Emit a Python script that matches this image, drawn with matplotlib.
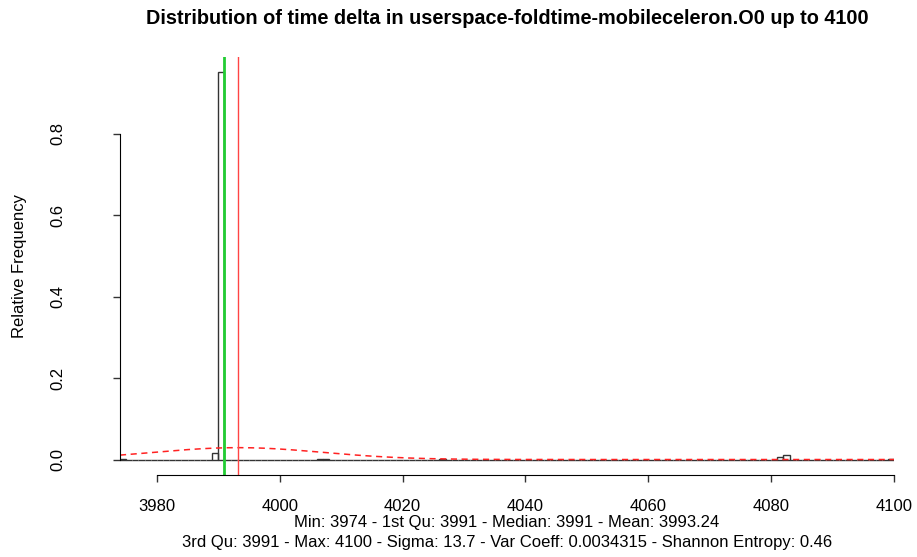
import numpy as np
import matplotlib
matplotlib.use("Agg")
import matplotlib.pyplot as plt

plt.rcParams['font.family'] = ['Liberation Sans', 'DejaVu Sans']

# histogram (unit bins, left edge) -> relative frequency
x_min, x_max = 3974, 4100
nonzero_bins = [3974, 3989, 3990, 4006, 4007, 4026, 4081, 4082, 4099]
nonzero_freq = [0.0006, 0.016, 0.95, 0.002, 0.002, 0.001, 0.005, 0.012, 0.001]

median_val = 3991
mean_val = 3993.24
sigma_val = 13.7

title = "Distribution of time delta in userspace-foldtime-mobileceleron.O0 up to 4100"
footer1 = "Min: 3974 - 1st Qu: 3991 - Median: 3991 - Mean: 3993.24"
footer2 = "3rd Qu: 3991 - Max: 4100 - Sigma: 13.7 - Var Coeff: 0.0034315 - Shannon Entropy: 0.46"
xticks = [3980, 4000, 4020, 4040, 4060, 4080, 4100]
yticks = [0.0, 0.2, 0.4, 0.6, 0.8]

bins = np.arange(x_min, x_max)
freq = np.zeros(len(bins))
for b, f in zip(nonzero_bins, nonzero_freq):
    freq[b - x_min] = f

fig = plt.figure(figsize=(9.17, 5.57), dpi=100)
ax = fig.add_axes([120 / 917, 82 / 557, 774 / 917, 418 / 557])
ymax = max(freq)
ax.set_xlim(x_min, x_max)
ax.set_ylim(-0.04 * ymax, 1.04 * ymax)

ax.bar(bins, freq, width=1, align='edge', fill=False, edgecolor='#333333', linewidth=1)

xs = np.linspace(x_min, x_max, 400)
dens = np.exp(-0.5 * ((xs - mean_val) / sigma_val) ** 2) / (sigma_val * np.sqrt(2 * np.pi))
ax.plot(xs, dens, color='#ff2222', linestyle=(0, (4, 3)), linewidth=1.1)

ax.axvline(median_val, color='#22cc33', linewidth=2)
ax.axvline(mean_val, color='#ff4444', linewidth=1)

for s in ax.spines.values():
    s.set_visible(False)
ax.spines['bottom'].set_visible(True)
ax.spines['bottom'].set_bounds(xticks[0], xticks[-1])
ax.spines['left'].set_visible(True)
ax.spines['left'].set_bounds(yticks[0], yticks[-1])
ax.set_xticks(xticks)
ax.set_yticks(yticks)
ax.set_yticklabels([str(t) for t in yticks], rotation=90, va='center')
ax.tick_params(length=5, width=1, labelsize=12, color='#333333')
ax.tick_params(axis='x', pad=12)
ax.tick_params(axis='y', pad=34)
ax.set_ylabel("Relative Frequency", fontsize=12, labelpad=17)

fig.text(507 / 917, 1 - 18 / 557, title, ha='center', va='center', fontsize=14.3, fontweight='bold')
fig.text(507 / 917, 1 - 522 / 557, footer1, ha='center', va='center', fontsize=12)
fig.text(507 / 917, 1 - 542 / 557, footer2, ha='center', va='center', fontsize=12)

fig.savefig("out.png", dpi=100)
